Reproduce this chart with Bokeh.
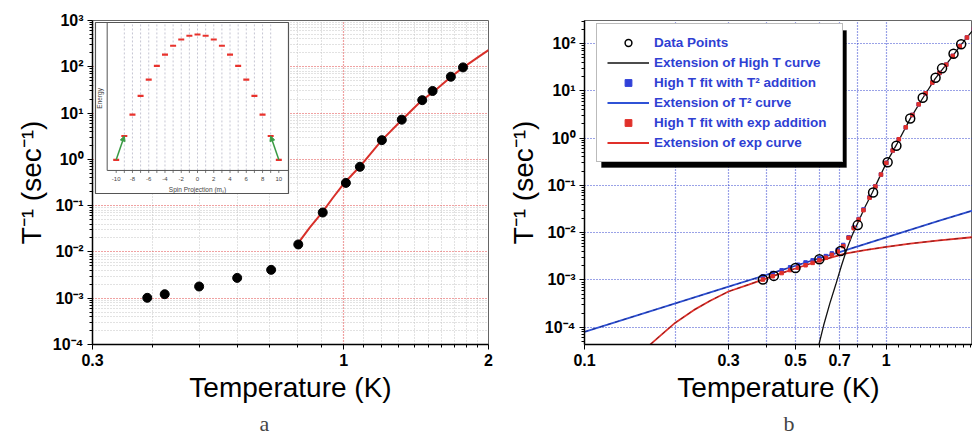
import math
from bokeh.plotting import figure
from bokeh.models import (FixedTicker, CustomJSTickFormatter, Range1d, LinearScale, Legend,
                          LegendItem, Title, Arrow, NormalHead, ColumnDataSource, BoxAnnotation)
from bokeh.layouts import row
from bokeh.embed import file_html
from bokeh.resources import INLINE
from bokeh.core.properties import value

# ---------------- data ----------------
# measured relaxation rate data points (both panels)
T_data = [0.39, 0.424, 0.50, 0.60, 0.706, 0.804, 0.904, 1.01, 1.08, 1.20, 1.32, 1.456, 1.53, 1.67, 1.77]
rate_data = [1.02e-3, 1.22e-3, 1.79e-3, 2.75e-3, 4.1e-3, 0.0145, 0.071, 0.31, 0.69, 2.6, 7.2, 19, 30, 61, 97]

# panel a: red fit curve
fitA_T = [0.80, 0.85, 0.90, 0.95, 1.00, 1.08, 1.20, 1.32, 1.45, 1.55, 1.67, 1.77, 1.90, 2.00]
fitA_rate = [0.0145, 0.034, 0.070, 0.15, 0.30, 0.70, 2.6, 7.1, 18.5, 31, 60, 96, 160, 230]

# panel a inset: spin projection levels
m_levels = [-10, -9, -8, -7, -6, -5, -4, -3, -2, -1, 0, 1, 2, 3, 4, 5, 6, 7, 8, 9, 10]
energy_levels = [-100, -81, -64, -49, -36, -25, -16, -9, -4, -1, 0, -1, -4, -9, -16, -25, -36, -49, -64, -81, -100]
inset_tick_labels = [-10, -8, -6, -4, -2, 0, 2, 4, 6, 8, 10]
arrow_m_start = [-10, 10]
arrow_E_start = [-100, -100]
arrow_m_end = [-9, 9]
arrow_E_end = [-81, -81]

# panel b: extension of high T curve (black)
highT_T = [0.598, 0.62, 0.65, 0.68, 0.71, 0.74, 0.77, 0.80, 0.85, 0.90, 0.95, 1.00, 1.08, 1.20, 1.32,
           1.45, 1.55, 1.67, 1.77, 1.95]
highT_rate = [4.3e-5, 1.1e-4, 3.2e-4, 8e-4, 2.0e-3, 4.5e-3, 8.7e-3, 0.015, 0.035, 0.072, 0.15, 0.30, 0.72,
              2.6, 7.0, 18, 31, 58, 95, 205]
# panel b: extension of T^2 curve (blue)
T2_T = [0.1, 0.2, 0.3, 0.5, 0.7, 1.0, 1.5, 1.95]
T2_rate = [8.0e-5, 3.2e-4, 7.2e-4, 2.0e-3, 3.9e-3, 8.0e-3, 1.8e-2, 3.0e-2]
# panel b: extension of exp curve (red)
exp_T = [0.165, 0.18, 0.2, 0.23, 0.26, 0.3, 0.35, 0.39, 0.45, 0.5, 0.6, 0.73, 0.85, 1.0, 1.2, 1.5, 1.95]
exp_rate = [4.3e-5, 7e-5, 1.25e-4, 2.3e-4, 3.6e-4, 5.7e-4, 8.0e-4, 1.02e-3, 1.4e-3, 1.75e-3, 2.55e-3,
            3.6e-3, 4.3e-3, 5.0e-3, 5.9e-3, 6.9e-3, 8.1e-3]
# panel b: high T fits (dots)
fit_T = [0.39, 0.42, 0.45, 0.48, 0.51, 0.54, 0.57, 0.60, 0.63, 0.66, 0.69, 0.72, 0.75, 0.78, 0.81, 0.84,
         0.88, 0.92, 0.96, 1.00, 1.05, 1.10, 1.16, 1.22, 1.28, 1.35, 1.42, 1.50, 1.58, 1.66, 1.75, 1.85, 1.95]
fit_T2_rate = [1.2e-3, 1.4e-3, 1.6e-3, 1.85e-3, 2.1e-3, 2.35e-3, 2.6e-3, 2.9e-3, 3.2e-3, 3.65e-3, 4.3e-3,
               5.5e-3, 8.0e-3, 0.0128, 0.0195, 0.031, 0.056, 0.096, 0.17, 0.30, 0.55, 0.95, 1.7, 3.1, 5.2,
               8.9, 15, 24, 36, 55, 88, 135, 205]
fit_exp_rate = [1.02e-3, 1.2e-3, 1.4e-3, 1.62e-3, 1.82e-3, 2.05e-3, 2.3e-3, 2.6e-3, 2.95e-3, 3.4e-3, 4.0e-3,
                5.2e-3, 7.8e-3, 0.0125, 0.019, 0.030, 0.055, 0.095, 0.17, 0.30, 0.55, 0.95, 1.7, 3.1, 5.2,
                8.9, 15, 24, 36, 55, 88, 135, 205]

# tick definitions
xa_ticks = [0.3, 1, 2]
xa_minor = [0.4, 0.5, 0.6, 0.7, 0.8, 0.9, 1.1, 1.2, 1.3, 1.4, 1.5, 1.6, 1.7, 1.8, 1.9]
ya_ticks = [1e-4, 1e-3, 1e-2, 1e-1, 1, 10, 100, 1000]
xb_ticks = [0.1, 0.3, 0.5, 0.7, 1, 2]
xb_minor = [0.2, 0.4, 0.6, 0.8, 0.9, 1.1, 1.2, 1.3, 1.4, 1.5, 1.6, 1.7, 1.8, 1.9]
xb_grid = [0.2, 0.3, 0.4, 0.5, 0.6, 0.7, 0.8, 1.0]
yb_ticks = [1e-4, 1e-3, 1e-2, 1e-1, 1, 10, 100]
decade_minor = [k * 10.0 ** e for e in range(-5, 3) for k in range(2, 10)]

# ---------------- styles ----------------
FONT = "Liberation Sans"
RED = "#d8302a"
BLUE = "#2f52d6"
LEG_TXT = "#2f3fd3"

sup_js = """
const sup = {"-":"\u207b","0":"\u2070","1":"\u00b9","2":"\u00b2","3":"\u00b3","4":"\u2074",
             "5":"\u2075","6":"\u2076","7":"\u2077","8":"\u2078","9":"\u2079"};
const e = Math.round(Math.log10(tick)).toString();
let s = "10";
for (const c of e) { s += sup[c]; }
return s;
"""
plain_js = "return tick.toString();"


def style(p):
    p.background_fill_color = "white"
    p.border_fill_color = "white"
    p.outline_line_color = "#666666"
    p.outline_line_width = 1
    for ax in (p.xaxis[0], p.yaxis[0]):
        ax.axis_line_color = "black"
        ax.axis_line_width = 1.5
        ax.major_tick_in = 0
        ax.major_tick_out = 5
        ax.minor_tick_in = 0
        ax.minor_tick_out = 3
        ax.major_tick_line_color = "black"
        ax.minor_tick_line_color = "black"
        ax.major_label_text_font = FONT
        ax.major_label_text_font_style = "bold"
        ax.major_label_text_font_size = "16px"
        ax.major_label_text_color = "black"
        ax.major_label_standoff = 4
        ax.axis_label_text_font = FONT
        ax.axis_label_text_font_size = "28px"
        ax.axis_label_text_font_style = "normal"
        ax.axis_label_text_color = "black"
        ax.axis_label_standoff = 3
    p.xaxis[0].axis_label = "Temperature (K)"
    p.yaxis[0].axis_label = "T\u207b\u00b9 (sec\u207b\u00b9)"
    p.yaxis[0].formatter = CustomJSTickFormatter(code=sup_js)
    p.xaxis[0].formatter = CustomJSTickFormatter(code=plain_js)


H = 442
# ---------------- panel a ----------------
pa = figure(width=500, height=H, x_axis_type="log", y_axis_type="log",
            x_range=Range1d(0.3, 2), y_range=Range1d(1e-4, 1e3),
            output_backend="svg", toolbar_location=None, title=None,
            min_border_left=92, min_border_right=12, min_border_top=20, min_border_bottom=H - 344)
style(pa)
pa.xaxis[0].ticker = FixedTicker(ticks=xa_ticks, minor_ticks=xa_minor)
pa.yaxis[0].ticker = FixedTicker(ticks=ya_ticks, minor_ticks=decade_minor)
for g in (pa.xgrid[0], pa.ygrid[0]):
    g.grid_line_color = "#e04545"
    g.grid_line_dash = "1 2"
    g.grid_line_width = 1.2
    g.minor_grid_line_color = "#c4c4c4"
    g.minor_grid_line_dash = "1 2"
    g.minor_grid_line_width = 1

# inset drawn in its own linear coordinate system inside panel a
pa.extra_x_ranges = {"inset": Range1d(-12.915, 35.79)}
pa.extra_y_ranges = {"inset": Range1d(-247.4, 11.17)}
pa.extra_x_scales = {"inset": LinearScale()}
pa.extra_y_scales = {"inset": LinearScale()}
IN = dict(x_range_name="inset", y_range_name="inset")
BOX_L, BOX_R, BOX_T, BOX_B = -12.55, 11.19, 9.58, -126.9
AX_L, AX_B = -11.11, -108.5

pa.quad(left=[BOX_L], right=[BOX_R], top=[BOX_T], bottom=[BOX_B], fill_color="white",
        line_color="#555555", line_width=1.2, **IN)
grid_m = [m for m in m_levels if abs(m) < 10]
pa.segment(x0=grid_m, x1=grid_m, y0=[AX_B] * len(grid_m), y1=[BOX_T] * len(grid_m),
           line_color="#b8b8c8", line_dash="2 2", line_width=0.8, **IN)
pa.segment(x0=[AX_L, AX_L], y0=[AX_B, AX_B], x1=[AX_L, BOX_R], y1=[BOX_T, AX_B],
           line_color="#555555", line_width=1, **IN)
pa.segment(x0=m_levels, x1=m_levels, y0=[AX_B] * len(m_levels), y1=[AX_B - 2.0] * len(m_levels),
           line_color="#555555", line_width=0.8, **IN)
pa.text(x=inset_tick_labels, y=[-115.5] * len(inset_tick_labels),
        text=[str(v) for v in inset_tick_labels], text_align="center", text_baseline="middle",
        text_font=value(FONT), text_font_size="6px", text_color="#444444", **IN)
pa.text(x=[0], y=[-123.5], text=["Spin Projection (m\u209b)"], text_align="center",
        text_baseline="middle", text_font=value(FONT), text_font_size="6.5px",
        text_color="#444444", **IN)
pa.text(x=[-12.05], y=[-51], text=["Energy"], angle=math.pi / 2, text_align="center",
        text_baseline="middle", text_font=value(FONT), text_font_size="6.5px",
        text_color="#444444", **IN)
pa.scatter(m_levels, energy_levels, marker="dash", size=6, line_color="#e8322c", line_width=2.2, **IN)
arrow_src = ColumnDataSource(dict(x0=arrow_m_start, y0=arrow_E_start, x1=arrow_m_end, y1=arrow_E_end))
pa.add_layout(Arrow(end=NormalHead(size=5, fill_color="#3a9a44", line_color="#3a9a44"),
                    x_start="x0", y_start="y0", x_end="x1", y_end="y1", source=arrow_src,
                    line_color="#3a9a44", line_width=1.5, **IN))

pa.line(fitA_T, fitA_rate, line_color=RED, line_width=2)
pa.scatter(T_data, rate_data, marker="circle", size=9, fill_color="black", line_color="black")
pa.add_layout(Title(text="a", align="left", offset=167, text_font="Liberation Serif",
                    text_font_size="22px", text_font_style="normal", standoff=6), "below")

# ---------------- panel b ----------------
pb = figure(width=472, height=H, x_axis_type="log", y_axis_type="log",
            x_range=Range1d(0.1, 1.93), y_range=Range1d(10 ** -4.365, 10 ** 2.49),
            output_backend="svg", toolbar_location=None, title=None,
            min_border_left=84, min_border_right=0, min_border_top=20, min_border_bottom=H - 344)
style(pb)
pb.xaxis[0].ticker = FixedTicker(ticks=xb_ticks, minor_ticks=xb_minor)
pb.yaxis[0].ticker = FixedTicker(ticks=yb_ticks, minor_ticks=decade_minor)
pb.xgrid[0].ticker = FixedTicker(ticks=xb_grid)
pb.ygrid[0].ticker = FixedTicker(ticks=yb_ticks)
for g in (pb.xgrid[0], pb.ygrid[0]):
    g.grid_line_color = "#3545cf"
    g.grid_line_dash = "1 2"
    g.grid_line_width = 1.2

r_t2 = pb.line(T2_T, T2_rate, line_color=BLUE, line_width=1.8)
pb.line(T2_T, T2_rate, line_color="#1b2a86", line_width=0.9, line_dash="4 4")
r_exp = pb.line(exp_T, exp_rate, line_color="#e0302a", line_width=1.8)
pb.line(exp_T, exp_rate, line_color="#7a1a1a", line_width=0.9, line_dash="4 4")
r_high = pb.line(highT_T, highT_rate, line_color="#111111", line_width=1.3)
r_bd = pb.scatter(fit_T, fit_T2_rate, marker="square", size=3.5, fill_color="#3040d8", line_color="#3040d8")
r_rd = pb.scatter(fit_T, fit_exp_rate, marker="square", size=3.5, fill_color="#e0302a", line_color="#e0302a")
r_pts = pb.scatter(T_data, rate_data, marker="circle", size=9, fill_color=None,
                   line_color="black", line_width=1.5)

labels = ["Data Points", "Extension of High T curve", "High T fit with T\u00b2 addition",
          "Extension of T\u00b2 curve", "High T fit with exp addition", "Extension of exp curve"]
rends = [r_pts, r_high, r_bd, r_t2, r_rd, r_exp]

LEG_X, LEG_Y, LEG_W, LEG_H, SHADOW = 12, 182, 245, 137, 5
pb.add_layout(BoxAnnotation(left=LEG_X + SHADOW, right=LEG_X + LEG_W + SHADOW,
                            bottom=LEG_Y - SHADOW, top=LEG_Y + LEG_H - SHADOW,
                            left_units="screen", right_units="screen",
                            top_units="screen", bottom_units="screen",
                            fill_color="black", fill_alpha=1, line_color="black"))
pb.add_layout(Legend(items=[LegendItem(label=l, renderers=[r]) for l, r in zip(labels, rends)],
                     location=(LEG_X, LEG_Y), margin=0, padding=10, spacing=3,
                     glyph_width=42, glyph_height=17, label_height=17, label_width=178, label_standoff=5,
                     label_text_font=FONT, label_text_font_size="13.5px", label_text_font_style="bold",
                     label_text_color=LEG_TXT, background_fill_color="white", background_fill_alpha=1,
                     border_line_color="#777777", border_line_width=1))
pb.add_layout(Title(text="b", align="left", offset=199, text_font="Liberation Serif",
                    text_font_size="22px", text_font_style="normal", standoff=6), "below")

layout = row(pa, pb)
with open("out.html", "w", encoding="utf-8") as f:
    f.write(file_html(layout, INLINE))
